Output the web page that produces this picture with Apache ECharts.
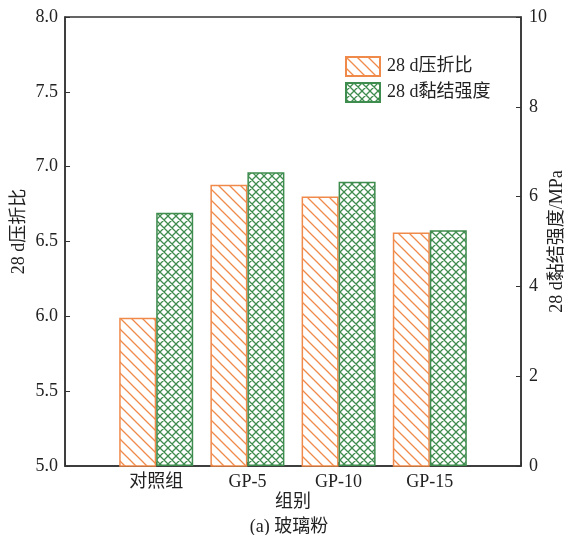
<!DOCTYPE html>
<html><head><meta charset="utf-8">
<script src="https://cdn.jsdelivr.net/npm/echarts@6/dist/echarts.min.js"></script>
<style>html,body{margin:0;padding:0;background:#fff}#c{width:564px;height:535px}</style>
</head><body><div id="c"></div>
<script>
const categories = ['', '对照组', 'GP-5', 'GP-10', 'GP-15', ''];
const ratio28d = [null, 5.99, 6.88, 6.80, 6.56, null];
const bond28d = [null, 5.64, 6.54, 6.33, 5.25, null];
const leftTicks = [5.0, 8.0, 0.5];
const rightTicks = [0, 10, 2];

const ORANGE = '#F08A4B', GREEN = '#3E8C4E';
const FONT = '"Liberation Serif","Noto Sans CJK SC",serif';

function hatch(color, cross) {
  const s = cross ? 8 : 11;
  const c = document.createElement('canvas');
  c.width = s; c.height = s;
  const g = c.getContext('2d');
  g.fillStyle = '#fff'; g.fillRect(0, 0, s, s);
  g.strokeStyle = color; g.lineWidth = 1.3;
  g.beginPath();
  g.moveTo(0, 0); g.lineTo(s, s);
  g.moveTo(s - 2, -2); g.lineTo(s + 2, 2);
  g.moveTo(-2, s - 2); g.lineTo(2, s + 2);
  if (cross) {
    g.moveTo(s, 0); g.lineTo(0, s);
    g.moveTo(-2, 2); g.lineTo(2, -2);
    g.moveTo(s - 2, s + 2); g.lineTo(s + 2, s - 2);
  }
  g.stroke();
  return {image: c, repeat: 'repeat'};
}

const chart = echarts.init(document.getElementById('c'), null, {renderer: 'canvas'});
chart.setOption({
  animation: false,
  textStyle: {fontFamily: FONT},
  grid: {left: 65, right: 43, top: 17, bottom: 69, outerBoundsMode: 'none', containLabel: false, show: true, borderColor: '#333', borderWidth: 1.5, backgroundColor: 'transparent'},
  title: {text: '(a) 玻璃粉', left: 284, textAlign: 'center', top: 513, textStyle: {fontFamily: FONT, fontSize: 18, fontWeight: 'normal', color: '#222'}},
  legend: {
    left: 340, top: 51, orient: 'vertical', itemWidth: 34, itemHeight: 19, itemGap: 5,
    icon: 'rect',
    textStyle: {fontFamily: FONT, fontSize: 18, color: '#222', padding: [0, 0, 0, 2]},
    data: ['28 d压折比', '28 d黏结强度']
  },
  xAxis: {
    type: 'category', data: categories, boundaryGap: false,
    name: '组别', nameLocation: 'middle', nameGap: 27, nameMoveOverlap: false,
    nameTextStyle: {fontFamily: FONT, fontSize: 18, color: '#222'},
    axisLine: {lineStyle: {color: '#333', width: 1.5}},
    axisTick: {inside: true, length: 4, lineStyle: {color: '#333'}},
    axisLabel: {fontFamily: FONT, fontSize: 18, color: '#222', margin: 7, interval: 0}
  },
  yAxis: [{
    type: 'value', min: leftTicks[0], max: leftTicks[1], interval: leftTicks[2],
    name: '28 d压折比', nameLocation: 'middle', nameGap: 37, nameRotate: 90, nameMoveOverlap: false,
    nameTextStyle: {fontFamily: FONT, fontSize: 18, color: '#222', padding: [0, 0, 0, 20]},
    axisLine: {show: true, lineStyle: {color: '#333', width: 1.5}},
    axisTick: {show: true, inside: true, length: 5, lineStyle: {color: '#333'}},
    axisLabel: {fontFamily: FONT, fontSize: 18, color: '#222', margin: 7, formatter: v => v.toFixed(1)},
    splitLine: {show: false}
  }, {
    type: 'value', min: rightTicks[0], max: rightTicks[1], interval: rightTicks[2], position: 'right',
    name: '28 d黏结强度/MPa', nameLocation: 'middle', nameGap: 27, nameRotate: 90, nameMoveOverlap: false,
    nameTextStyle: {fontFamily: FONT, fontSize: 18, color: '#222'},
    axisLine: {show: true, lineStyle: {color: '#333', width: 1.5}},
    axisTick: {show: true, inside: true, length: 5, lineStyle: {color: '#333'}},
    axisLabel: {fontFamily: FONT, fontSize: 18, color: '#222', margin: 8},
    splitLine: {show: false}
  }],
  series: [{
    name: '28 d压折比', type: 'bar', yAxisIndex: 0, data: ratio28d, barWidth: 37, barGap: '0%',
    itemStyle: {color: hatch(ORANGE, false), borderColor: ORANGE, borderWidth: 1.5}
  }, {
    name: '28 d黏结强度', type: 'bar', yAxisIndex: 1, data: bond28d, barWidth: 37, barGap: '0%',
    itemStyle: {color: hatch(GREEN, true), borderColor: GREEN, borderWidth: 1.5}
  }]
});
</script></body></html>
